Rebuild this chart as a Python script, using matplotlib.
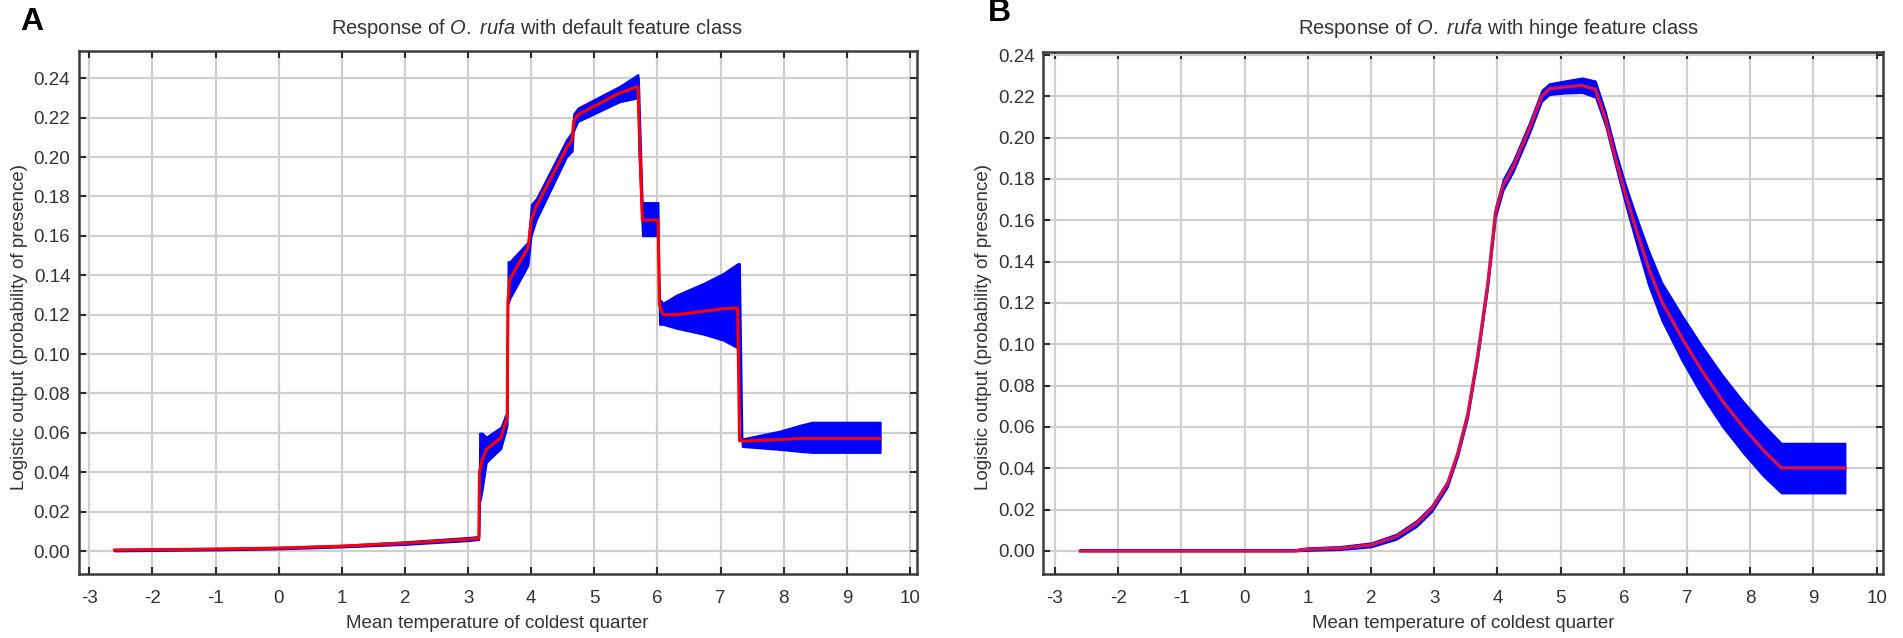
import matplotlib
matplotlib.use("Agg")
import matplotlib.pyplot as plt
import numpy as np

plt.rcParams['font.family'] = ['Liberation Sans', 'DejaVu Sans']
plt.rcParams['mathtext.fontset'] = 'custom'
plt.rcParams['mathtext.rm'] = 'Liberation Sans'
plt.rcParams['mathtext.it'] = 'Liberation Sans:italic'
plt.rcParams['axes.unicode_minus'] = False

# Panel A - default feature class (mean response and +/- band)
temp_a = [-2.6, -1.0, 0.0, 1.0, 2.0, 3.0, 3.17, 3.18, 3.22, 3.29, 3.52, 3.59, 3.62,
          3.63, 3.66, 3.95, 4.00, 4.08, 4.56, 4.65, 4.67, 4.74, 5.40, 5.69, 5.70,
          5.76, 6.01, 6.03, 6.09, 6.30, 6.73, 7.04, 7.27, 7.30, 7.34, 7.94, 8.26,
          8.45, 9.53]
mean_a = [0.0005, 0.001, 0.0015, 0.0025, 0.004, 0.006, 0.0065, 0.040, 0.046, 0.0516,
          0.0575, 0.065, 0.068, 0.126, 0.138, 0.154, 0.168, 0.175, 0.2046, 0.209,
          0.218, 0.2215, 0.2325, 0.2358, 0.225, 0.168, 0.168, 0.125, 0.120, 0.120,
          0.1217, 0.123, 0.1234, 0.056, 0.0558, 0.0566, 0.0571, 0.0571, 0.0571]
upper_a = [0.001, 0.0015, 0.002, 0.003, 0.0048, 0.007, 0.0075, 0.060, 0.060, 0.058,
           0.063, 0.069, 0.070, 0.147, 0.147, 0.157, 0.176, 0.179, 0.209, 0.213,
           0.222, 0.225, 0.236, 0.242, 0.240, 0.177, 0.177, 0.128, 0.126, 0.130,
           0.136, 0.141, 0.146, 0.146, 0.057, 0.061, 0.064, 0.0655, 0.0655]
lower_a = [0.0, 0.0005, 0.001, 0.002, 0.0033, 0.0052, 0.0058, 0.024, 0.030, 0.045,
           0.052, 0.060, 0.064, 0.125, 0.128, 0.145, 0.160, 0.168, 0.200, 0.203,
           0.213, 0.218, 0.228, 0.230, 0.205, 0.160, 0.160, 0.115, 0.115, 0.113,
           0.110, 0.107, 0.103, 0.083, 0.053, 0.0515, 0.0505, 0.050, 0.050]

# Panel B - hinge feature class
temp_b = [-2.6, 0.8, 1.0, 1.5, 2.0, 2.4, 2.72, 2.96, 3.21, 3.37, 3.53, 3.69, 3.85,
          3.97, 4.09, 4.25, 4.5, 4.7, 4.82, 5.06, 5.34, 5.55, 5.71, 5.87, 6.03,
          6.19, 6.39, 6.6, 6.92, 7.24, 7.56, 7.89, 8.21, 8.49, 9.5]
mean_b = [0.0, 0.0, 0.0008, 0.0013, 0.0029, 0.0069, 0.0133, 0.0205, 0.0325, 0.047,
          0.066, 0.095, 0.130, 0.164, 0.177, 0.186, 0.204, 0.220, 0.2236, 0.2245,
          0.2253, 0.2233, 0.209, 0.1896, 0.172, 0.156, 0.137, 0.1207, 0.103, 0.087,
          0.0726, 0.0598, 0.0486, 0.0402, 0.0402]
upper_b = [0.0008, 0.0008, 0.0016, 0.0022, 0.0040, 0.0082, 0.0148, 0.0220, 0.0340,
           0.0485, 0.0675, 0.0965, 0.1318, 0.1665, 0.1800, 0.1890, 0.2070, 0.2230,
           0.2262, 0.2275, 0.2290, 0.2275, 0.2125, 0.1935, 0.1770, 0.1625, 0.1455,
           0.1300, 0.1140, 0.0990, 0.0851, 0.0723, 0.0611, 0.0522, 0.0522]
lower_b = [0.0, 0.0, 0.0002, 0.0006, 0.0019, 0.0056, 0.0118, 0.0190, 0.0310, 0.0455,
           0.0645, 0.0935, 0.1282, 0.1615, 0.1745, 0.1835, 0.2015, 0.2175, 0.2208,
           0.2215, 0.2218, 0.2195, 0.2055, 0.1860, 0.1670, 0.1495, 0.1285, 0.1115,
           0.0920, 0.0750, 0.0601, 0.0473, 0.0361, 0.0280, 0.0280]

x_ticks = list(range(-3, 11))
y_ticks = [0.00, 0.02, 0.04, 0.06, 0.08, 0.10, 0.12, 0.14, 0.16, 0.18, 0.20, 0.22, 0.24]
text_col = '#333333'

fig = plt.figure(figsize=(19.03, 6.38), dpi=100)
W, H = 1903.0, 638.0

def make_axes(left, top, right, bottom):
    return fig.add_axes([left / W, 1 - bottom / H, (right - left) / W, (bottom - top) / H])

axA = make_axes(78.7, 50.7, 916.7, 574.3)
axB = make_axes(1043.3, 51.7, 1882.7, 574.3)

def style(ax, ylim, xlim):
    ax.set_xlim(*xlim)
    ax.set_ylim(*ylim)
    ax.set_xticks(x_ticks)
    ax.set_yticks(y_ticks)
    ax.set_yticklabels(['%.2f' % v for v in y_ticks])
    ax.grid(True, color='#cfcfcf', lw=1.6)
    ax.set_axisbelow(True)
    for s in ax.spines.values():
        s.set_color('#3c3c3c')
        s.set_linewidth(1.8)
    ax.tick_params(direction='in', length=5, width=1.5, color='#2a2a2a',
                   top=True, right=True, labelsize=13.5, labelcolor=text_col)
    ax.tick_params(axis='x', pad=11)
    ax.tick_params(axis='y', pad=6)
    ax.set_xlabel('Mean temperature of coldest quarter', fontsize=13.5,
                  color=text_col, labelpad=6)

# A
axA.fill_between(temp_a, lower_a, upper_a, color='#0000ff', lw=1.2, edgecolor='#0000ff')
axA.plot(temp_a, mean_a, color='#ff0000', lw=2.2)
style(axA, (-0.0118, 0.254), (-3.168, 10.106))

# B
axB.fill_between(temp_b, lower_b, upper_b, color='#0000ff', lw=1.2, edgecolor='#0000ff')
axB.plot(temp_b, mean_b, color='#d8104e', lw=2.4)
style(axB, (-0.0113, 0.2416), (-3.185, 10.095))

fig.text(537 / W, 1 - 28 / H, r'Response of $\mathit{O.}$ $\mathit{rufa}$ with default feature class',
         ha='center', va='center', fontsize=14.5, color=text_col)
fig.text(1498 / W, 1 - 28 / H, r'Response of $\mathit{O.}$ $\mathit{rufa}$ with hinge feature class',
         ha='center', va='center', fontsize=14.5, color=text_col)

ylab = 'Logistic output (probability of presence)'
fig.text(20 / W, 1 - 327 / H, ylab, rotation=90, ha='center', va='center',
         fontsize=13.5, color=text_col)
fig.text(984 / W, 1 - 327 / H, ylab, rotation=90, ha='center', va='center',
         fontsize=13.5, color=text_col)

fig.text(32 / W, 1 - 21.5 / H, 'A', ha='center', va='center', fontsize=23,
         fontweight='bold', color='black')
fig.text(999.5 / W, 1 - 13 / H, 'B', ha='center', va='center', fontsize=23,
         fontweight='bold', color='black')

fig.savefig('out.png', dpi=100)
